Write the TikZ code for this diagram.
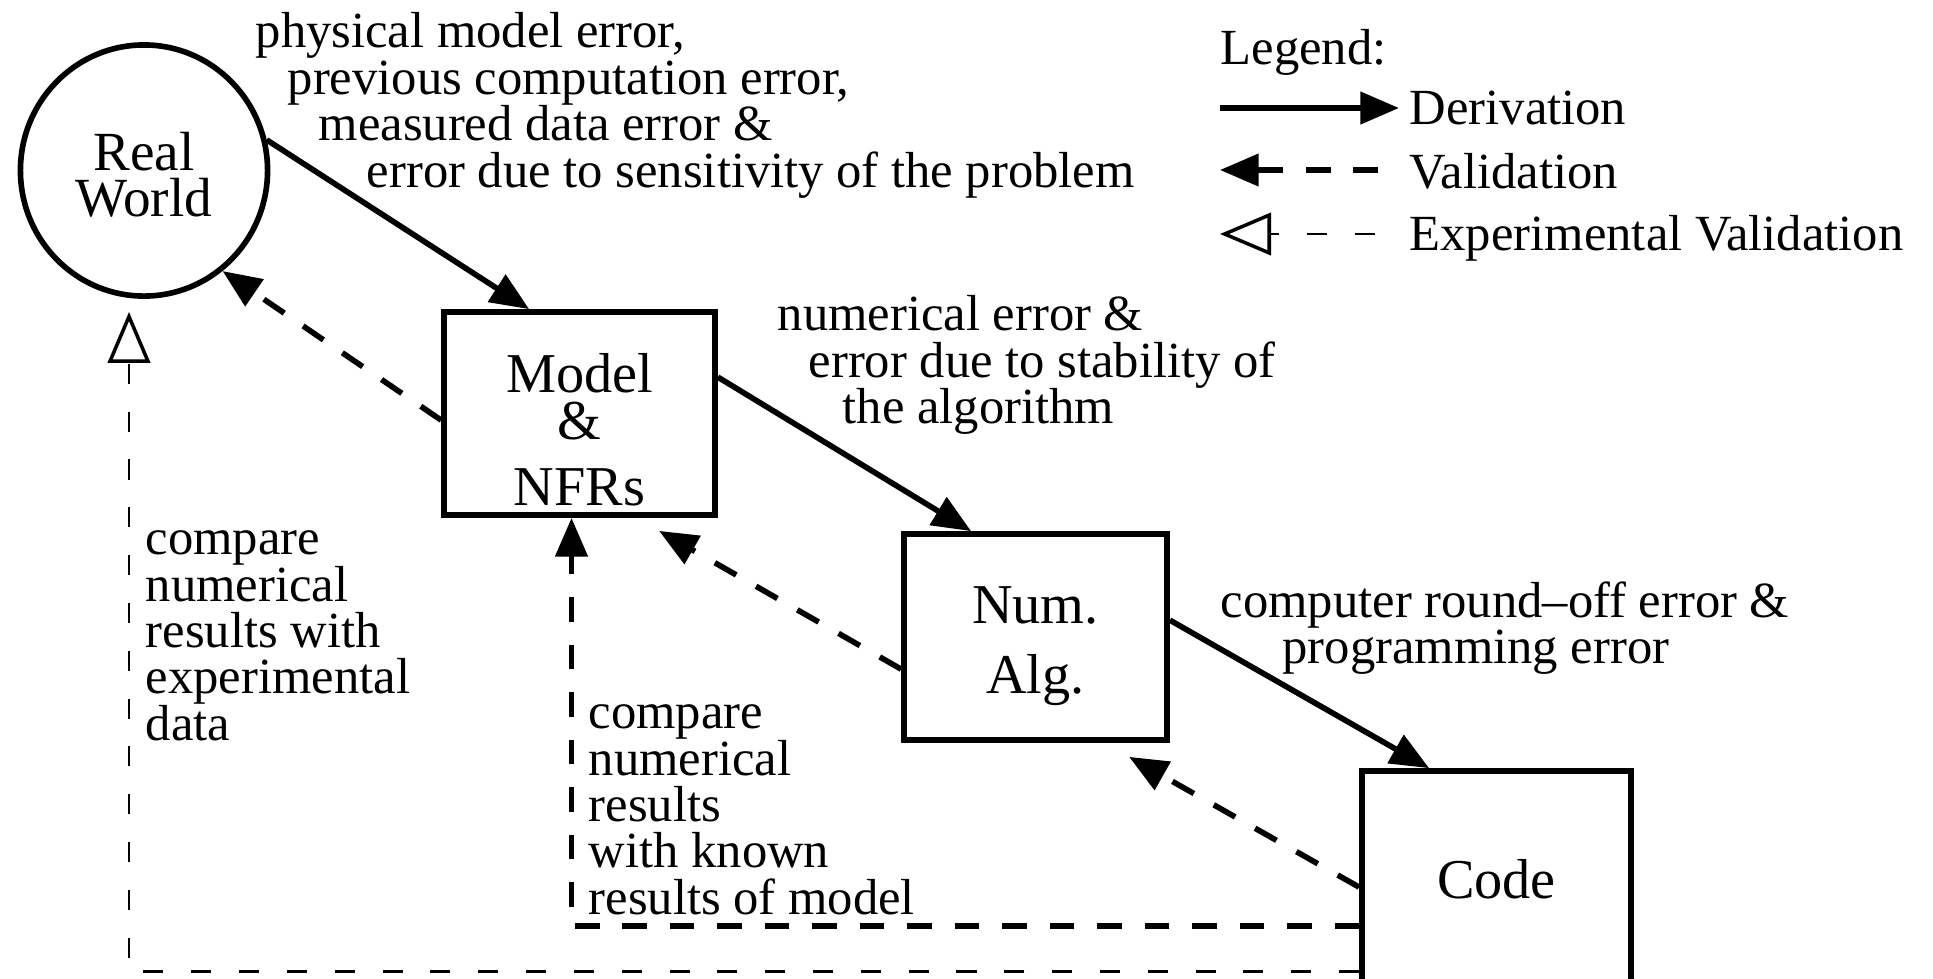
\documentclass[tikz,border=0pt]{standalone}
\usepackage{fontspec}
\setmainfont{Liberation Serif}
\usetikzlibrary{arrows.meta,calc,shapes.geometric}
\begin{document}
\begin{tikzpicture}[x=0.01cm,y=-0.01cm,
  blk/.style={draw, line width=1.6pt, inner sep=0pt, align=center},
  btxt/.style={inner sep=0pt, align=center},
  ann/.style={inner sep=0pt, align=left, anchor=north west, font=\fontsize{14.4}{13.2}\selectfont},
  leg/.style={inner sep=0pt, anchor=base west, font=\fontsize{14.4}{13.2}\selectfont},
  deriv/.style={line width=1.6pt, -{Triangle[length=11pt,width=9pt]}},
  valid/.style={line width=1.6pt, dash pattern=on 7pt off 6.5pt, -{Triangle[length=11pt,width=9pt]}},
  expval/.style={line width=0.8pt, dash pattern=on 5.7pt off 7.9pt, -{Triangle[open,length=14.5pt,width=12pt,line width=1pt]}}]
\useasboundingbox (0,0) rectangle (1933,978);
% nodes
\node[blk, ellipse, minimum width=2.47cm, minimum height=2.51cm] (rw) at (144,170.5) {};
\node[btxt, font=\fontsize{15.7}{13}\selectfont] (rwtxt) at ($(rw.center)+(0,4)$) {Real\\World};
\node[blk, minimum width=2.71cm, minimum height=2.03cm] (model) at (579.5,413.5) {};
\node[btxt, font=\fontsize{16}{13.4}\selectfont] (modeltxt) at ($(model.center)+(0,16)$) {Model\\\&\\[5.2pt]NFRs};
\node[blk, minimum width=2.63cm, minimum height=2.06cm] (num) at (1035.5,637) {};
\node[btxt, font=\fontsize{16}{20}\selectfont] (numtxt) at ($(num.center)+(0,9)$) {Num.\\Alg.};
\node[blk, minimum width=2.69cm, minimum height=2.16cm, font=\fontsize{16}{16}\selectfont] (code) at (1496.5,879) {Code};
% annotations
\node[ann] (t1) at (255,12) {physical model error,\\\hspace*{9.1pt}previous computation error,\\\hspace*{17.9pt}measured data error \&\\\hspace*{31.6pt}error due to sensitivity of the problem};
\node[ann] (t2) at (777,295) {numerical error \&\\\hspace*{8.8pt}error due to stability of\\\hspace*{18.5pt}the algorithm};
\node[ann] (t3) at (1220,581) {computer round--off error \&\\\hspace*{17.6pt}programming error};
\node[ann] (t4) at (145,530) {compare\\numerical\\results with\\experimental\\data};
\node[ann] (t5) at (588,704) {compare\\numerical\\results\\with known\\results of model};
% connectors
\draw[deriv] (rw.14) -- ($(model.north west)+(88,0)$);
\draw[deriv] ($(model.north east)+(0,68)$) -- ($(num.north west)+(70,0)$);
\draw[deriv] ($(num.north east)+(0,89)$) -- ($(code.north west)+(70,0)$);
\draw[valid] ($(model.north west)+(0,111)$) -- (rw.-52);
\draw[valid] ($(num.north west)+(0,138)$) -- ($(model.south west)+(218,13)$);
\draw[valid] ($(code.north west)+(0,119)$) -- ($(num.south west)+(228,14)$);
\draw[valid] ($(code.north west)+(0,158)$) -| ($(model.south)+(-8,0)$);
\draw[expval] ($(code.north west)+(0,203)$) -| ($(rw.south)+(-15,13)$);
% legend
\node[leg] (lg) at (1220,64) {Legend:};
\coordinate (d1) at (1220,108); \coordinate (d2) at (1399,108);
\draw[deriv] (d1) -- (d2);
\node[leg] (dtx) at (1409,124) {Derivation};
\coordinate (v1) at (1378,170); \coordinate (v2) at (1220,170);
\draw[valid] (v1) -- (v2);
\node[leg] (vtx) at (1409,188) {Validation};
\coordinate (e1) at (1375,234); \coordinate (e2) at (1220,234);
\draw[expval] (e1) -- (e2);
\node[leg] (etx) at (1409,250) {Experimental Validation};
\end{tikzpicture}
\end{document}
